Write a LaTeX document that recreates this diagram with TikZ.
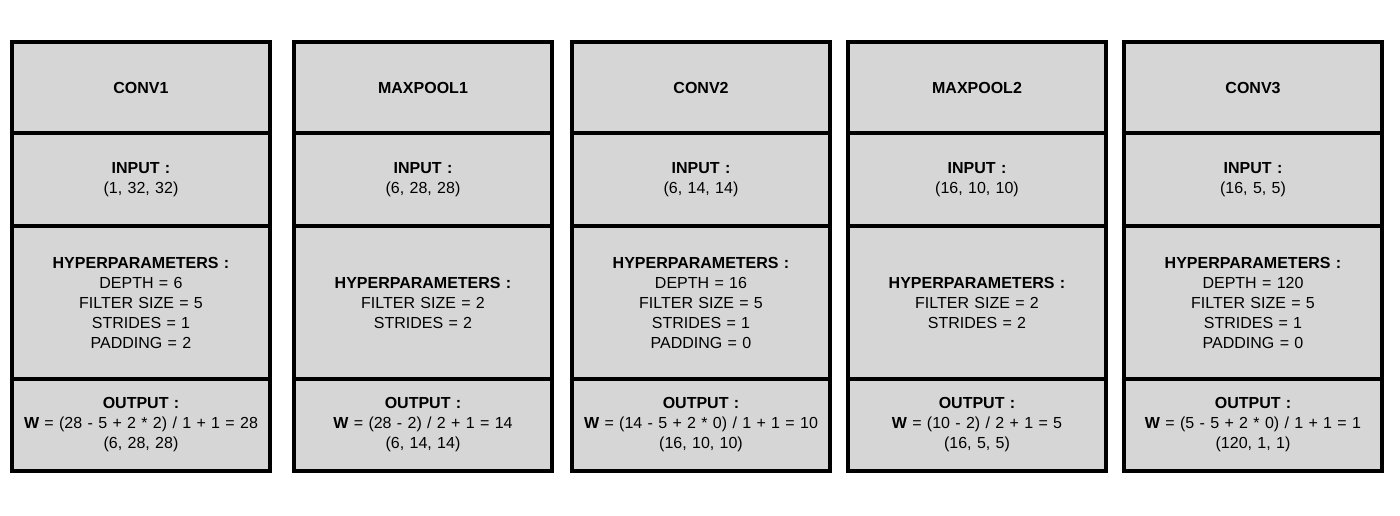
\documentclass[tikz,border=0pt]{standalone}
\usepackage{fontspec}
\setmainfont{Liberation Sans}
\usepackage{xcolor}
\usepackage{tikz}
\usetikzlibrary{positioning}
\definecolor{cellgray}{HTML}{D6D6D6}
\tikzset{
	every picture/.style={/utils/exec={\fontsize{8}{10}\selectfont}},
	every node/.style = {inner sep = 0, outer sep = 0},
	cell/.style = {draw, line width=1.6pt, fill=cellgray, align=center, text width=125pt, minimum width=129pt},
	head/.style = {cell, minimum height=45.5pt, anchor=north west},
	inbox/.style = {cell, minimum height=46.5pt},
	hpbox/.style = {cell, minimum height=76.5pt},
	outbox/.style = {cell, minimum height=46pt}
}

\begin{document}
\begin{tikzpicture}[x=0.5pt,y=0.5pt]
		\useasboundingbox (0,0) rectangle (1400,-515);
		% conv1
		\node[head] (conv1) at (12,-42) {\textbf{CONV1}};
		\node[inbox, below = 0pt of conv1] (conv1in) {\textbf{INPUT :}\\(1, 32, 32)};
		\node[hpbox, below = 0pt of conv1in] (conv1hp) {\textbf{HYPERPARAMETERS :}\\DEPTH = 6\\FILTER SIZE = 5\\STRIDES = 1\\PADDING = 2};
		\node[outbox, below = 0pt of conv1hp] (conv1out) {\textbf{OUTPUT :}\\\textbf{W} = (28 - 5 + 2 * 2) / 1 + 1 = 28\\(6, 28, 28)};
		% maxpool1
		\node[head] (pool1) at (294,-42) {\textbf{MAXPOOL1}};
		\node[inbox, below = 0pt of pool1] (pool1in) {\textbf{INPUT :}\\(6, 28, 28)};
		\node[hpbox, below = 0pt of pool1in] (pool1hp) {\textbf{HYPERPARAMETERS :}\\FILTER SIZE = 2\\STRIDES = 2};
		\node[outbox, below = 0pt of pool1hp] (pool1out) {\textbf{OUTPUT :}\\\textbf{W} = (28 - 2) / 2 + 1 = 14\\(6, 14, 14)};
		% conv2
		\node[head] (conv2) at (572,-42) {\textbf{CONV2}};
		\node[inbox, below = 0pt of conv2] (conv2in) {\textbf{INPUT :}\\(6, 14, 14)};
		\node[hpbox, below = 0pt of conv2in] (conv2hp) {\textbf{HYPERPARAMETERS :}\\DEPTH = 16\\FILTER SIZE = 5\\STRIDES = 1\\PADDING = 0};
		\node[outbox, below = 0pt of conv2hp] (conv2out) {\textbf{OUTPUT :}\\\textbf{W} = (14 - 5 + 2 * 0) / 1 + 1 = 10\\(16, 10, 10)};
		% maxpool2
		\node[head] (pool2) at (848,-42) {\textbf{MAXPOOL2}};
		\node[inbox, below = 0pt of pool2] (pool2in) {\textbf{INPUT :}\\(16, 10, 10)};
		\node[hpbox, below = 0pt of pool2in] (pool2hp) {\textbf{HYPERPARAMETERS :}\\FILTER SIZE = 2\\STRIDES = 2};
		\node[outbox, below = 0pt of pool2hp] (pool2out) {\textbf{OUTPUT :}\\\textbf{W} = (10 - 2) / 2 + 1 = 5\\(16, 5, 5)};
		% conv3
		\node[head] (conv3) at (1124,-42) {\textbf{CONV3}};
		\node[inbox, below = 0pt of conv3] (conv3in) {\textbf{INPUT :}\\(16, 5, 5)};
		\node[hpbox, below = 0pt of conv3in] (conv3hp) {\textbf{HYPERPARAMETERS :}\\DEPTH = 120\\FILTER SIZE = 5\\STRIDES = 1\\PADDING = 0};
		\node[outbox, below = 0pt of conv3hp] (conv3out) {\textbf{OUTPUT :}\\\textbf{W} = (5 - 5 + 2 * 0) / 1 + 1 = 1\\(120, 1, 1)};
\end{tikzpicture}
\end{document}
